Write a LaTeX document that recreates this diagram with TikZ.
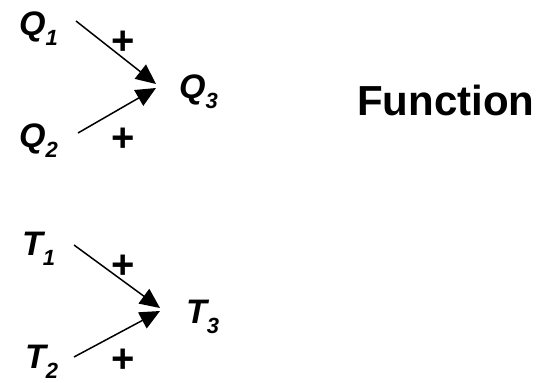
\documentclass[tikz,border=0pt]{standalone}
\usepackage{fontspec}
\setmainfont{Liberation Sans}
\usepackage{tikz}
\usetikzlibrary{arrows.meta}
\newcommand{\sub}[1]{\raisebox{-10pt}{\fontsize{22}{22}\selectfont\textit{#1}}}

\begin{document}
\begin{tikzpicture}[x=1pt, y=-1pt,
  var/.style={anchor=base west, inner sep=0pt, font=\fontsize{34}{34}\selectfont\bfseries\itshape},
  sgn/.style={inner sep=0pt, font=\fontsize{40}{40}\selectfont\bfseries},
  arr/.style={-{Triangle[length=20pt, width=18pt]}, line width=1.5pt}]
\useasboundingbox (0,0) rectangle (539,383);
% upper pair
\node[var] (q1) at (19,35) {Q\sub{1}};
\node[var] (q2) at (19,147) {Q\sub{2}};
\node[var] (q3) at (179,98) {Q\sub{3}};
\coordinate (q1s) at (76,21);
\coordinate (q2s) at (78,133);
\coordinate (qa) at (156,84);
\coordinate (qb) at (156,88);
\draw[arr] (q1s) -- (qa);
\draw[arr] (q2s) -- (qb);
\node[sgn] (p1) at (123,43) {+};
\node[sgn] (p2) at (123,140) {+};
% lower pair
\node[var] (t1) at (22,255) {T\sub{1}};
\node[var] (t2) at (25,368) {T\sub{2}};
\node[var] (t3) at (186,323) {T\sub{3}};
\coordinate (t1s) at (74,245);
\coordinate (t2s) at (74,357);
\coordinate (ta) at (160,308);
\coordinate (tb) at (160,311);
\draw[arr] (t1s) -- (ta);
\draw[arr] (t2s) -- (tb);
\node[sgn] (p3) at (123,267) {+};
\node[sgn] (p4) at (123,361) {+};
% label
\node[anchor=base west, inner sep=0pt, font=\fontsize{42}{42}\selectfont\bfseries] (fn) at (357,115) {Function};
\end{tikzpicture}
\end{document}
